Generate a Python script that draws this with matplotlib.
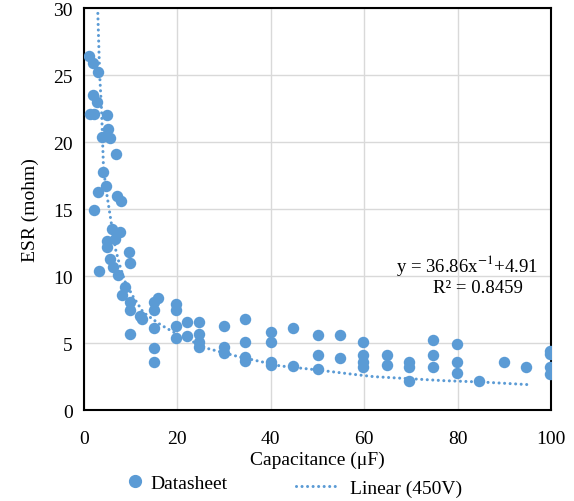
import matplotlib
matplotlib.use('Agg')
import matplotlib.pyplot as plt
from matplotlib.lines import Line2D

plt.rcParams['font.family'] = ['Liberation Serif', 'DejaVu Serif']
plt.rcParams['mathtext.fontset'] = 'stix'

# datasheet points (capacitance uF, ESR mohm)
cap = [1.1, 1.9, 3.0, 1.9, 2.8, 1.3, 2.2, 4.9, 5.2, 3.9, 5.6, 6.9, 4.1,
       4.7, 3.0, 7.1, 8.0, 2.2, 6.0, 7.7, 4.9, 6.7, 4.9, 9.7, 9.9, 5.6,
       6.2, 3.2, 7.3, 8.8, 8.2, 9.9, 9.9, 12.0, 12.5, 9.9,
       15.0, 15.9, 15.0, 15.0, 15.0, 15.0,
       19.8, 19.8, 19.8, 19.8, 22.1, 22.1, 24.7, 24.7, 24.7, 24.7,
       29.9, 29.9, 29.9, 34.6, 34.6, 34.6, 34.6,
       40.0, 40.0, 40.0, 40.0, 44.7, 44.7, 50.1, 50.1, 50.1,
       54.8, 54.8, 59.8, 59.8, 59.8, 59.8, 64.9, 64.9,
       69.7, 69.7, 69.7, 74.8, 74.8, 74.8, 79.8, 79.8, 79.8,
       84.5, 89.9, 94.6, 99.8, 99.8, 99.8, 99.8]
esr = [26.4, 25.9, 25.2, 23.5, 23.0, 22.1, 22.1, 22.0, 21.0, 20.4, 20.3, 19.1, 17.8,
       16.7, 16.3, 16.0, 15.6, 14.9, 13.5, 13.3, 12.6, 12.8, 12.2, 11.8, 11.0, 11.3,
       10.7, 10.4, 10.1, 9.2, 8.6, 8.1, 7.5, 7.0, 6.8, 5.7,
       8.1, 8.4, 7.5, 6.1, 4.6, 3.6,
       7.9, 7.5, 6.3, 5.4, 6.6, 5.5, 6.6, 5.7, 5.1, 4.7,
       6.3, 4.7, 4.3, 6.8, 5.1, 4.0, 3.7,
       5.8, 5.1, 3.6, 3.4, 6.1, 3.3, 5.6, 4.1, 3.1,
       5.6, 3.9, 5.1, 4.1, 3.6, 3.2, 4.1, 3.4,
       3.6, 3.2, 2.2, 5.2, 4.1, 3.2, 4.9, 3.6, 2.8,
       2.2, 3.6, 3.2, 4.4, 4.2, 3.2, 2.7]

# trend line points
trend_x = [3.0, 3.4, 3.8, 4.2, 4.7, 5.2, 6.0, 6.8, 7.7, 8.8, 10.5, 12.7,
           16.3, 20.3, 26.5, 33.0, 42.0, 50.0, 57.0, 62.0, 67.0, 77.0, 85.0, 95.3]
trend_y = [29.6, 25.0, 22.4, 18.2, 16.6, 15.5, 13.7, 12.0, 10.8, 9.6, 8.5, 7.3,
           6.4, 5.6, 4.6, 4.0, 3.3, 3.0, 2.7, 2.5, 2.4, 2.2, 2.1, 1.9]

blue = '#5B9BD5'
dots = (0, (0.01, 1.8))

fig = plt.figure(figsize=(5.74, 5.02), dpi=100)
ax = fig.add_axes([0.146, 0.181, 0.814, 0.801])

ax.scatter(cap, esr, s=68, color=blue, zorder=3, linewidths=0)
ax.plot(trend_x, trend_y, color=blue, lw=2.2, linestyle=dots,
        dash_capstyle='round', zorder=4)

ax.set_xlim(0, 100)
ax.set_ylim(0, 30)
ax.set_xticks(range(0, 101, 20))
ax.set_yticks(range(0, 31, 5))
ax.grid(True, color='#D9D9D9', lw=1)
ax.set_axisbelow(True)
ax.tick_params(length=0, labelsize=14)
ax.tick_params(axis='x', pad=14)
ax.tick_params(axis='y', pad=8)
for sp in ax.spines.values():
    sp.set_color('black')
    sp.set_linewidth(1.5)

ax.set_xlabel('Capacitance (μF)', fontsize=14, labelpad=3)
ax.set_ylabel('ESR (mohm)', fontsize=14, labelpad=10)

ax.text(0.973, 0.362, r'y = 36.86x$^{-1}$+4.91', transform=ax.transAxes,
        fontsize=13.5, ha='right', va='center')
ax.text(0.94, 0.306, 'R² = 0.8459', transform=ax.transAxes,
        fontsize=13.5, ha='right', va='center')

h1 = Line2D([], [], marker='o', color=blue, linestyle='none', markersize=8.5)
h2 = Line2D([], [], color=blue, lw=2.2, linestyle=dots, dash_capstyle='round')
fig.legend([h1], ['Datasheet'], loc='center left', bbox_to_anchor=(0.218, 0.036),
           frameon=False, fontsize=14, handlelength=1.0, handletextpad=0.3,
           borderpad=0, borderaxespad=0)
fig.legend([h2], ['Linear (450V)'], loc='center left', bbox_to_anchor=(0.516, 0.026),
           frameon=False, fontsize=14, handlelength=2.27, handletextpad=0.5,
           borderpad=0, borderaxespad=0)

fig.savefig('out.png', dpi=100)
